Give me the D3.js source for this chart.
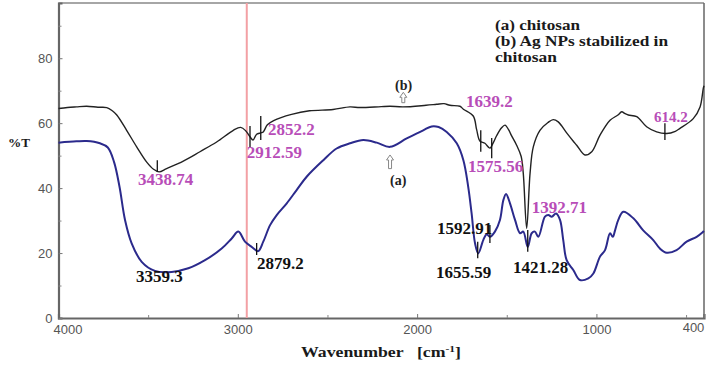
<!DOCTYPE html>
<html>
<head>
<meta charset="utf-8">
<script src="https://cdn.jsdelivr.net/npm/d3@7/dist/d3.min.js"></script>
<style>
  body { margin: 0; background: #fff; }
  svg { display: block; }
  .tick text { font-family: "Liberation Sans", Arial, sans-serif; font-size: 13px; fill: #555; }
  .serif { font-family: "Liberation Serif", "Times New Roman", serif; font-weight: bold; }
</style>
</head>
<body>
<svg id="chart" width="709" height="365"></svg>
<script>
// (b) Ag NPs stabilized in chitosan - wavenumber [cm-1] and %T
const wnB = [4000,3950,3900,3843,3780,3731,3700,3675,3620,3564,3508,3470,3439,3397,3304,3211,3118,3025,2984,2955,2932,2915,2895,2872,2858,2835,2800,2700,2600,2469,2375,2319,2200,2151,2079,1950,1891,1850,1817,1761,1742,1687,1668,1650,1622,1594,1575,1556,1530,1510,1490,1475,1445,1420,1408,1389,1370,1352,1315,1270,1241,1213,1166,1130,1110,1064,1026,980,924,880,859,840,822,775,720,664,608,560,534,460,422,404,400];
const tB  = [64.5,64.8,65.0,65.2,64.9,64.8,63.8,62.5,57.8,52.7,48.0,45.8,45.0,46.0,48.3,51.2,54.2,57.8,58.7,57.6,55.8,54.8,56.6,57.0,57.3,59.5,60.8,62.7,63.8,64.2,65.0,64.8,65.1,65.2,65.0,65.5,65.8,66.0,65.5,65.2,64.3,62.2,58.0,54.5,53.8,52.3,54.0,56.2,58.5,59.4,58.0,56.3,53.2,49.8,44.6,27.6,44.6,52.7,57.8,60.2,61.1,60.4,57.0,54.5,53.2,50.2,51.2,56.3,60.9,62.5,63.5,62.9,62.5,62.0,58.9,57.3,56.8,57.5,58.4,61.4,65.0,70.7,71.5];

// (a) chitosan
const wnA = [4000,3900,3843,3769,3725,3690,3660,3629,3592,3536,3462,3369,3276,3183,3090,3034,2997,2960,2923,2886,2858,2820,2783,2727,2672,2616,2523,2449,2374,2300,2225,2151,2058,1966,1919,1880,1835,1779,1742,1715,1696,1677,1659,1631,1612,1594,1566,1538,1519,1504,1482,1454,1426,1408,1383,1361,1343,1324,1287,1268,1249,1225,1203,1185,1166,1129,1092,1045,1017,980,952,924,909,896,878,850,794,739,683,646,608,553,497,441,404,400];
const tA  = [54.0,54.4,54.5,53.8,52.5,48.0,40.5,30.2,23.0,17.3,14.5,14.2,15.3,17.8,21.4,24.5,26.6,23.5,21.9,20.6,23.5,28.6,31.7,35.3,39.4,43.5,48.6,52.2,53.8,54.8,54.0,52.7,55.3,57.8,59.0,58.8,57.3,53.8,48.6,40.4,32.2,23.0,19.9,24.0,25.8,25.0,26.6,30.2,36.3,38.2,35.3,30.2,26.1,26.6,21.9,26.1,26.6,25.0,31.2,31.7,31.2,32.2,30.2,24.0,17.8,14.8,11.7,12.2,13.7,18.9,20.9,26.1,25.0,27.0,30.2,32.7,30.7,27.0,24.0,21.4,20.1,20.9,23.5,25.0,26.6,26.8];

const xTicks = [4000, 3000, 2000, 1000, 400];
const xMinor = [3500, 2500, 1500, 500];
const yTicks = [0, 20, 40, 60, 80];
const yMinor = [10, 30, 50, 70, 90];
const refLine = 2950;

// peak markers: [wavenumber, %T top, %T bottom, series]
const markers = [
  [3449, 48.6, 45.0, 'b'], [2932, 59.1, 52.6, 'b'], [2872, 62.2, 54.8, 'b'],
  [1645, 57.8, 51.2, 'b'], [1584, 55.4, 49.2, 'b'], [618, 60.0, 54.8, 'b'],
  [2895, 23.1, 19.4, 'a'], [1594, 28.6, 23.1, 'a'], [1662, 23.5, 18.4, 'a'], [1383, 27.1, 20.4, 'a']
];
// peak labels: [text, wavenumber (left edge), %T (baseline), series]
const peakLabels = [
  ['3438.74', 3557, 40.9, 'b'], ['2912.59', 2950, 49.2, 'b'], ['2852.2', 2832, 56.3, 'b'],
  ['1639.2', 1727, 65.0, 'b'], ['1575.56', 1716, 45.0, 'b'], ['614.2', 679, 60.4, 'b'],
  ['1392.71', 1361, 32.2, 'b'],
  ['3359.3', 3568, 11.2, 'a'], ['2879.2', 2893, 15.1, 'a'], ['1592.91', 1889, 25.8, 'a'],
  ['1655.59', 1894, 12.4, 'a'], ['1421.28', 1465, 13.9, 'a']
];
// curve tags with arrows: [text, label wavenumber, label %T, arrow wavenumber, arrow top %T, arrow bottom %T]
const tags = [
  ['(b)', 2123, 70.2, 2077, 69.5, 66.3],
  ['(a)', 2151, 40.9, 2151, 50.2, 46.0]
];
const legendLines = ['(a) chitosan', '(b) Ag NPs stabilized in', 'chitosan'];

const svg = d3.select('#chart');
const W = 709, H = 365;
const mLeft = 58.5, mRight = 704, mTop = 3, mBottom = 318;

const x = d3.scaleLinear().domain([4000, 400]).range([mLeft, mRight]);
const y = d3.scaleLinear().domain([0, 97]).range([mBottom, mTop]);

svg.append('rect').attr('width', W).attr('height', H).attr('fill', '#fff');

// frame
svg.append('line').attr('x1', mLeft).attr('x2', mRight).attr('y1', mTop).attr('y2', mTop).attr('stroke', '#888').attr('stroke-width', 1.5);
svg.append('line').attr('x1', mRight).attr('x2', mRight).attr('y1', mTop).attr('y2', mBottom).attr('stroke', '#666').attr('stroke-width', 1.5);

// axes
const xAxis = d3.axisBottom(x).tickValues(xTicks).tickSize(-4).tickPadding(7).tickFormat(d3.format('d'));
const gx = svg.append('g').attr('transform', 'translate(0,' + mBottom + ')').call(xAxis);
gx.select('.domain').attr('stroke', '#666').attr('stroke-width', 2.2);
gx.selectAll('.tick line').attr('stroke', '#777');
gx.selectAll('.tick text').attr('dx', d => d === 4000 ? 9 : (d === 400 ? -11 : 0)).attr('dy', d => d === 400 ? '0.55em' : '0.71em');
svg.append('g').attr('transform', 'translate(0,' + mBottom + ')')
  .call(d3.axisBottom(x).tickValues(xMinor).tickSize(-3).tickFormat(''))
  .call(g => g.select('.domain').remove())
  .selectAll('line').attr('stroke', '#888');

const yAxis = d3.axisLeft(y).tickValues(yTicks).tickSize(-4).tickPadding(6);
const gy = svg.append('g').attr('transform', 'translate(' + mLeft + ',0)').call(yAxis);
gy.select('.domain').attr('stroke', '#666').attr('stroke-width', 2.2);
gy.selectAll('.tick line').attr('stroke', '#777');
svg.append('g').attr('transform', 'translate(' + mLeft + ',0)')
  .call(d3.axisLeft(y).tickValues(yMinor).tickSize(-3).tickFormat(''))
  .call(g => g.select('.domain').remove())
  .selectAll('line').attr('stroke', '#888');

// reference line
svg.append('line').attr('x1', x(refLine)).attr('x2', x(refLine)).attr('y1', mTop).attr('y2', mBottom)
  .attr('stroke', '#f3a0a4').attr('stroke-width', 2);

// curves
const line = d3.line().x(d => x(d[0])).y(d => y(d[1])).curve(d3.curveCatmullRom.alpha(0.5));
svg.append('path').datum(d3.zip(wnA, tA)).attr('d', line)
  .attr('fill', 'none').attr('stroke', '#2b2a8c').attr('stroke-width', 2);
svg.append('path').datum(d3.zip(wnB, tB)).attr('d', line)
  .attr('fill', 'none').attr('stroke', '#222').attr('stroke-width', 1.4);

// peak markers
svg.selectAll('.marker').data(markers).enter().append('line')
  .attr('x1', d => x(d[0])).attr('x2', d => x(d[0]))
  .attr('y1', d => y(d[1])).attr('y2', d => y(d[2]))
  .attr('stroke', '#111').attr('stroke-width', 1.3);

// peak labels
svg.selectAll('.plabel').data(peakLabels).enter().append('text')
  .attr('class', 'serif')
  .attr('x', d => x(d[1])).attr('y', d => y(d[2]))
  .attr('font-size', d => d[0] === '614.2' ? 15 : 17)
  .attr('fill', d => d[3] === 'b' ? '#b84db8' : '#111')
  .text(d => d[0]);

// tags with hollow arrows
tags.forEach(function(t){
  svg.append('text').attr('class', 'serif').attr('x', x(t[1])).attr('y', y(t[2]))
    .attr('font-size', 14).attr('fill', '#222').text(t[0]);
  const ax = x(t[3]), y0 = y(t[4]), y1 = y(t[5]);
  const p = d3.path();
  p.moveTo(ax, y0);
  p.lineTo(ax + 3.5, y0 + 5);
  p.lineTo(ax + 1.5, y0 + 5);
  p.lineTo(ax + 1.5, y1);
  p.lineTo(ax - 1.5, y1);
  p.lineTo(ax - 1.5, y0 + 5);
  p.lineTo(ax - 3.5, y0 + 5);
  p.closePath();
  svg.append('path').attr('d', p.toString()).attr('fill', '#fff').attr('stroke', '#888').attr('stroke-width', 1);
});

// legend
const legendLen = [85, 173, 62];
legendLines.forEach(function(s, i){
  svg.append('text').attr('class', 'serif').attr('x', 495).attr('y', 30 + i * 16)
    .attr('font-size', 14).attr('fill', '#1a1a1a')
    .attr('textLength', legendLen[i]).attr('lengthAdjust', 'spacingAndGlyphs')
    .text(s);
});

// axis titles
svg.append('text').attr('class', 'serif').attr('x', 8).attr('y', 147)
  .attr('font-size', 13).attr('fill', '#1a1a1a')
  .attr('textLength', 22).attr('lengthAdjust', 'spacingAndGlyphs').text('%T');
const xt = svg.append('text').attr('class', 'serif').attr('x', 301).attr('y', 357)
  .attr('font-size', 14).attr('fill', '#1a1a1a')
  .attr('textLength', 160).attr('lengthAdjust', 'spacingAndGlyphs');
xt.append('tspan').text('Wavenumber\u00a0\u00a0 [cm');
xt.append('tspan').attr('dy', -5).attr('font-size', 9).text('-1');
xt.append('tspan').attr('dy', 5).text(']');
</script>
</body>
</html>
